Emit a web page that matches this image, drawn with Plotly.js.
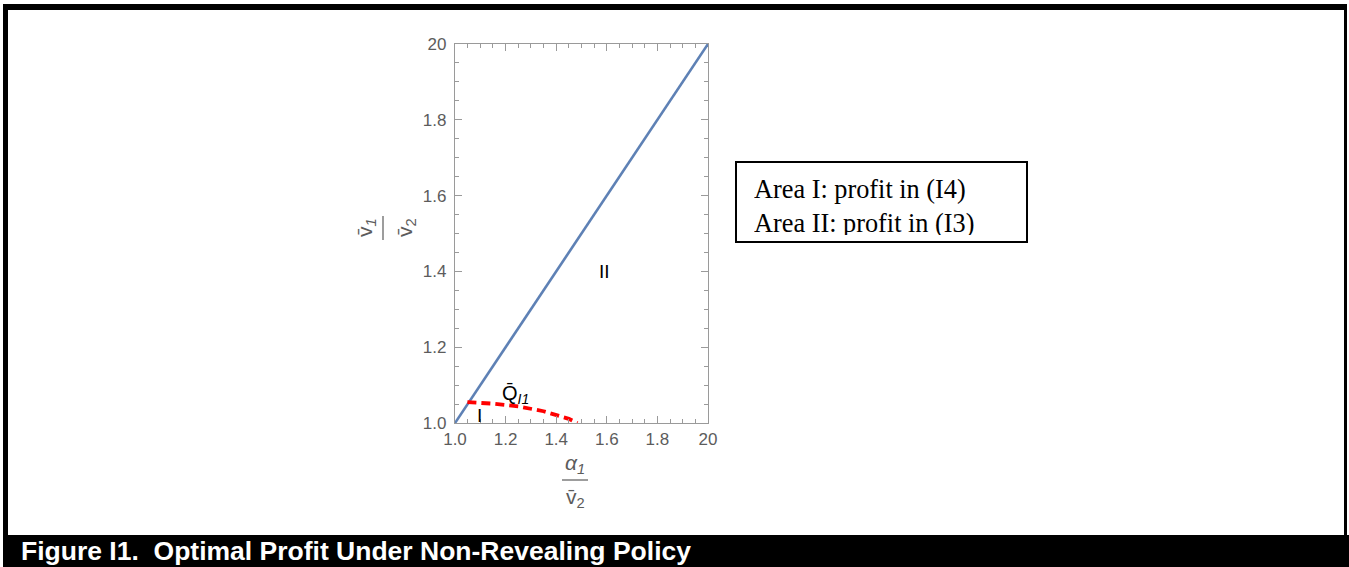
<!DOCTYPE html>
<html>
<head>
<meta charset="utf-8">
<script src="https://cdn.plot.ly/plotly-3.0.1.min.js"></script>
<style>
html,body{margin:0;padding:0;background:#fff;}
#chart{width:1349px;height:567px;}
</style>
</head>
<body>
<div id="chart"></div>
<script>
// ---- data ----
const boundaryX = [1.0, 2.0];          // blue line separating areas
const boundaryY = [1.0, 2.0];
const qbarX = [1.049, 1.15, 1.25, 1.35, 1.45, 1.484];   // red dashed curve Q̄_I1
const qbarY = [1.055, 1.051, 1.044, 1.031, 1.011, 1.000];
const tickVals = [1.0, 1.2, 1.4, 1.6, 1.8, 2.0];
const tickText = ['1.0', '1.2', '1.4', '1.6', '1.8', '20'];
const regionLabels = ['II', 'I'];
const regionX = [1.59, 1.095];
const regionY = [1.40, 1.02];
const legendLines = ['Area I: profit in (I4)', 'Area II: profit in (I3)'];
const caption = 'Figure I1.\u00a0 Optimal Profit Under Non-Revealing Policy';

// pixel -> paper helpers (plot area: x 455..708, y 44..423)
const L = 455, R = 708, T = 44, B = 423;
const px = x => (x - L) / (R - L);
const py = y => (B - y) / (B - T);

const gray = '#5c5c5c';
const frameGray = '#9a9a9a';
const sans = 'Liberation Sans, Arial, sans-serif';

const traces = [
  {x: boundaryX, y: boundaryY, type: 'scatter', mode: 'lines',
   line: {color: '#5E81B5', width: 2.6}, hoverinfo: 'skip'},
  {x: qbarX, y: qbarY, type: 'scatter', mode: 'lines',
   line: {color: '#FF0000', width: 3.8, dash: '9px,5px'}, hoverinfo: 'skip'}
];

const axisCommon = {
  range: [1, 2], tickmode: 'array', tickvals: tickVals, ticktext: tickText,
  showline: true, linecolor: frameGray, linewidth: 1.2, mirror: 'allticks',
  ticks: 'inside', ticklen: 7, tickwidth: 1, tickcolor: frameGray,
  minor: {dtick: 0.05, tick0: 1, ticks: 'inside', ticklen: 4, tickcolor: frameGray, tickwidth: 1},
  showgrid: false, zeroline: false,
  tickfont: {family: sans, size: 17, color: gray}
};

const shapes = [
  // outer frame
  {type:'rect', xref:'paper', yref:'paper', x0:px(3), x1:px(1346), y0:py(4), y1:py(10), fillcolor:'#000', line:{width:0}},
  {type:'rect', xref:'paper', yref:'paper', x0:px(3), x1:px(8), y0:py(4), y1:py(567), fillcolor:'#000', line:{width:0}},
  {type:'rect', xref:'paper', yref:'paper', x0:px(1344), x1:px(1347), y0:py(4), y1:py(536), fillcolor:'#000', line:{width:0}},
  {type:'rect', xref:'paper', yref:'paper', x0:px(5), x1:px(1349), y0:py(535), y1:py(567), fillcolor:'#000', line:{width:0}},
  // legend box
  {type:'rect', xref:'paper', yref:'paper', x0:px(736), x1:px(1027), y0:py(162), y1:py(242), line:{color:'#000', width:2}},
  // fraction bars of axis titles
  {type:'line', xref:'paper', yref:'paper', x0:px(383), x1:px(383), y0:py(216), y1:py(240), line:{color:gray, width:1.2}},
  {type:'line', xref:'paper', yref:'paper', x0:px(562), x1:px(588), y0:py(480), y1:py(480), line:{color:gray, width:1.2}}
];

const annotations = [
  // caption
  {xref:'paper', yref:'paper', x:px(19), y:py(551), xanchor:'left', yanchor:'middle', showarrow:false,
   text:'<b>' + caption + '</b>', font:{family:sans, size:26.5, color:'#fff'}},
  // legend text (second line clipped by the box, as in the original)
  {xref:'paper', yref:'paper', x:px(752), y:py(173), xanchor:'left', yanchor:'top', showarrow:false,
   align:'left', valign:'top', height:60,
   text: legendLines.join('<br>'), font:{family:'Liberation Serif, Times New Roman, serif', size:26.3, color:'#000'}},
  // region labels
  {x:regionX[0], y:regionY[0], showarrow:false, text:regionLabels[0], font:{family:sans, size:19, color:'#000'}},
  {x:regionX[1], y:regionY[1], showarrow:false, text:regionLabels[1], font:{family:sans, size:19, color:'#000'}},
  // Q̄_I1 label
  {x:1.24, y:1.076, showarrow:false, text:'Q\u0304<sub><i>I1</i></sub>', font:{family:sans, size:20, color:'#000'}},
  // y axis title (rotated fraction)
  {xref:'paper', yref:'paper', x:px(351), y:py(228), showarrow:false, textangle:-90,
   text:'v\u0304<sub><i>1</i></sub>', font:{family:sans, size:21, color:gray}},
  {xref:'paper', yref:'paper', x:px(391), y:py(228), showarrow:false, textangle:-90,
   text:'v\u0304<sub>2</sub>', font:{family:sans, size:21, color:gray}},
  // x axis title (fraction)
  {xref:'paper', yref:'paper', x:px(575), y:py(479), showarrow:false,
   text:'<i>α</i><sub><i>1</i></sub>', font:{family:sans, size:21, color:gray}},
  {xref:'paper', yref:'paper', x:px(575), y:py(513), showarrow:false,
   text:'v\u0304<sub>2</sub>', font:{family:sans, size:21, color:gray}}
];

const layout = {
  width: 1349, height: 567,
  margin: {l: L, r: 1349 - R, t: T, b: 567 - B, pad: 0},
  paper_bgcolor: '#fff', plot_bgcolor: '#fff',
  showlegend: false,
  xaxis: Object.assign({}, axisCommon),
  yaxis: Object.assign({}, axisCommon, {ticklabelstandoff: 4}),
  shapes: shapes,
  annotations: annotations,
  font: {family: sans}
};

Plotly.newPlot('chart', traces, layout, {staticPlot: true, displayModeBar: false});
</script>
</body>
</html>
